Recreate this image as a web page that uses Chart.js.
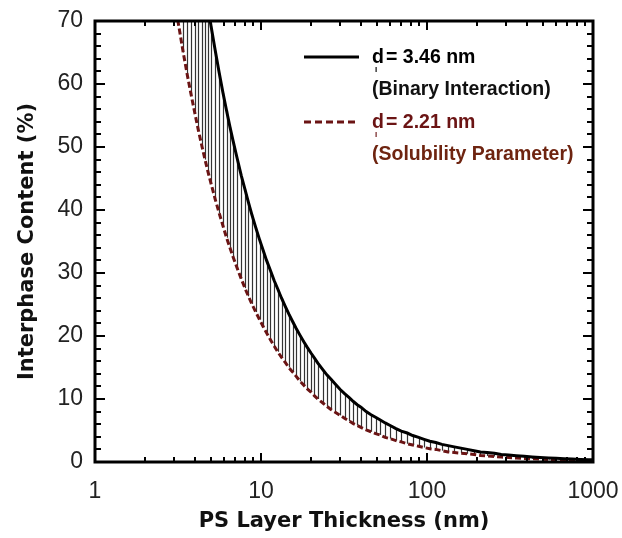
<!DOCTYPE html>
<html>
<head>
<meta charset="utf-8">
<script src="https://cdn.jsdelivr.net/npm/chart.js@4"></script>
<style>
  html, body { margin: 0; padding: 0; background: #fff; }
</style>
</head>
<body>
<canvas id="chart" width="622" height="538"></canvas>
<script>
// PS layer thickness (nm)
const thickness = [3.15, 3.4, 3.6, 3.8, 4.0, 4.2, 4.4, 4.6, 4.8, 5.0, 5.3, 5.6, 5.9, 6.2, 6.5, 6.8, 7.2, 7.6, 8.0, 8.4,
  8.8, 9.3, 9.8, 10.3, 10.8, 11.4, 12, 12.6, 13.3, 14, 14.7, 15.5, 16.3, 17.2, 18.1, 19, 20, 21, 22, 23.5,
  25, 26.5, 28, 30, 32, 34, 36, 38, 40, 43, 46, 49, 52, 56, 60, 65, 70, 76, 82, 89,
  96, 104, 113, 123, 134, 146, 160, 175, 192, 210, 230, 255, 280, 310, 345, 385, 430, 480, 540, 600,
  670, 750, 840, 940, 1000];
// interphase content (%) for d_I = 3.46 nm
const binaryContent = [109.8, 101.8, 96.1, 91.1, 86.5, 82.4, 78.6, 75.2, 72.1, 69.2, 65.3, 61.8, 58.6, 55.8, 53.2, 50.9, 48.1, 45.5, 43.3, 41.2,
  39.3, 37.2, 35.3, 33.6, 32.0, 30.4, 28.8, 27.5, 26.0, 24.7, 23.5, 22.3, 21.2, 20.1, 19.1, 18.2, 17.3, 16.5, 15.7, 14.7,
  13.8, 13.1, 12.4, 11.5, 10.8, 10.2, 9.6, 9.1, 8.7, 8.0, 7.5, 7.1, 6.7, 6.2, 5.8, 5.3, 4.9, 4.6, 4.2, 3.9,
  3.6, 3.3, 3.1, 2.8, 2.6, 2.4, 2.2, 2.0, 1.8, 1.6, 1.5, 1.4, 1.2, 1.1, 1.0, 0.9, 0.8, 0.72, 0.64, 0.58,
  0.52, 0.46, 0.41, 0.37, 0.35];
// interphase content (%) for d_I = 2.21 nm
const solubilityContent = [70.2, 65.0, 61.4, 58.2, 55.3, 52.6, 50.2, 48.0, 46.0, 44.2, 41.7, 39.5, 37.5, 35.6, 34.0, 32.5, 30.7, 29.1, 27.6, 26.3,
  25.1, 23.8, 22.6, 21.5, 20.5, 19.4, 18.4, 17.5, 16.6, 15.8, 15.0, 14.3, 13.6, 12.8, 12.2, 11.6, 11.1, 10.5, 10.0, 9.4,
  8.8, 8.3, 7.9, 7.4, 6.9, 6.5, 6.1, 5.8, 5.5, 5.1, 4.8, 4.5, 4.3, 3.9, 3.7, 3.4, 3.2, 2.9, 2.7, 2.5,
  2.3, 2.1, 2.0, 1.8, 1.6, 1.5, 1.4, 1.3, 1.2, 1.05, 0.96, 0.87, 0.79, 0.71, 0.64, 0.57, 0.51, 0.46, 0.41, 0.37,
  0.33, 0.29, 0.26, 0.24, 0.22];

const xTickLabels = [1, 10, 100, 1000];
const yTickLabels = [0, 10, 20, 30, 40, 50, 60, 70];
const legendLabels = [
  { value: '= 3.46 nm', note: '(Binary Interaction)', color: '#000000', noteColor: '#111111', dash: [] },
  { value: '= 2.21 nm', note: '(Solubility Parameter)', color: '#6b1414', noteColor: '#6e2410', dash: [7, 4] }
];

const tickFont = { family: 'Liberation Sans, Arial, sans-serif', size: 23 };
const titleFont = { family: 'DejaVu Sans, Verdana, sans-serif', size: 21, weight: 'bold' };

// vertical hatching between the two curves
const hatchPlugin = {
  id: 'hatch',
  beforeDatasetsDraw(chart) {
    const { ctx, chartArea: a, scales: { x, y } } = chart;
    ctx.save();
    ctx.beginPath();
    ctx.rect(a.left, a.top, a.width, a.height);
    ctx.clip();
    ctx.strokeStyle = '#333';
    ctx.lineWidth = 1.2;
    thickness.forEach((t, i) => {
      const px = Math.round(x.getPixelForValue(t)) + 0.5;
      ctx.beginPath();
      ctx.moveTo(px, y.getPixelForValue(binaryContent[i]));
      ctx.lineTo(px, y.getPixelForValue(solubilityContent[i]));
      ctx.stroke();
    });
    ctx.restore();
  }
};

// box frame with inside ticks on all four sides
const framePlugin = {
  id: 'frame',
  afterDatasetsDraw(chart) {
    const { ctx, chartArea: a, scales: { x, y } } = chart;
    ctx.save();
    ctx.strokeStyle = '#000';
    ctx.lineWidth = 2;
    for (let d = 1; d < 1000; d *= 10) {
      for (let k = 1; k <= 10; k++) {
        const px = Math.round(x.getPixelForValue(k * d));
        const len = (k === 1 || k === 10) ? 9 : 5;
        ctx.beginPath();
        ctx.moveTo(px, a.bottom); ctx.lineTo(px, a.bottom - len);
        ctx.moveTo(px, a.top); ctx.lineTo(px, a.top + len);
        ctx.stroke();
      }
    }
    for (let v = 0; v <= 70; v += 2) {
      const py = Math.round(y.getPixelForValue(v));
      const len = v % 10 === 0 ? 10 : 6;
      ctx.beginPath();
      ctx.moveTo(a.left, py); ctx.lineTo(a.left + len, py);
      ctx.moveTo(a.right, py); ctx.lineTo(a.right - len, py);
      ctx.stroke();
    }
    ctx.lineWidth = 3;
    ctx.strokeRect(a.left, a.top, a.width, a.height);
    ctx.restore();
  }
};

const legendPlugin = {
  id: 'dLegend',
  afterDraw(chart) {
    const { ctx } = chart;
    ctx.save();
    legendLabels.forEach((item, i) => {
      const top = 57 + i * 65;
      ctx.strokeStyle = item.color;
      ctx.lineWidth = 3;
      ctx.setLineDash(item.dash);
      ctx.beginPath();
      ctx.moveTo(304, top); ctx.lineTo(359, top);
      ctx.stroke();
      ctx.setLineDash([]);
      ctx.fillStyle = item.color;
      ctx.textBaseline = 'alphabetic';
      ctx.font = 'bold 19.5px Liberation Sans, Arial, sans-serif';
      ctx.fillText('d', 372, top + 6);
      ctx.font = 'bold 8px Liberation Sans, Arial, sans-serif';
      ctx.fillText('I', 375, top + 15);
      ctx.font = 'bold 19.5px Liberation Sans, Arial, sans-serif';
      ctx.fillText(item.value, 386, top + 6);
      ctx.fillStyle = item.noteColor;
      ctx.fillText(item.note, 372, top + 38);
    });
    ctx.restore();
  }
};

new Chart(document.getElementById('chart'), {
  type: 'line',
  data: {
    datasets: [
      {
        label: 'd = 3.46 nm',
        data: thickness.map((t, i) => ({ x: t, y: binaryContent[i] })),
        borderColor: '#000',
        borderWidth: 3,
        pointRadius: 0,
        tension: 0
      },
      {
        label: 'd = 2.21 nm',
        data: thickness.map((t, i) => ({ x: t, y: solubilityContent[i] })),
        borderColor: '#6b1414',
        borderWidth: 3,
        borderDash: [6, 3],
        pointRadius: 0,
        tension: 0
      }
    ]
  },
  options: {
    responsive: false,
    animation: false,
    layout: { padding: { top: 21, right: 29, left: 0, bottom: 0 } },
    scales: {
      x: {
        type: 'logarithmic',
        min: 1,
        max: 1000,
        grid: { display: false, drawTicks: false },
        border: { display: false },
        ticks: {
          autoSkip: false,
          maxRotation: 0,
          color: '#222',
          font: tickFont,
          padding: 16,
          callback: v => xTickLabels.includes(v) ? String(v) : ''
        },
        title: { display: true, text: 'PS Layer Thickness (nm)', color: '#111', font: titleFont, padding: { top: 0, bottom: 4 } },
        afterFit: s => { s.height = 76; s.paddingLeft = 0; s.paddingRight = 0; }
      },
      y: {
        min: 0,
        max: 70,
        grid: { display: false, drawTicks: false },
        border: { display: false },
        ticks: {
          stepSize: 10,
          color: '#222',
          font: tickFont,
          padding: 12,
          callback: v => yTickLabels.includes(v) ? String(v) : ''
        },
        title: { display: true, text: 'Interphase Content (%)', color: '#111', font: titleFont, padding: { top: 15, bottom: 0 } },
        afterFit: s => { s.width = 95; s.paddingTop = 0; s.paddingBottom = 0; }
      }
    },
    plugins: {
      legend: { display: false },
      tooltip: { enabled: false }
    }
  },
  plugins: [hatchPlugin, framePlugin, legendPlugin]
});
</script>
</body>
</html>
